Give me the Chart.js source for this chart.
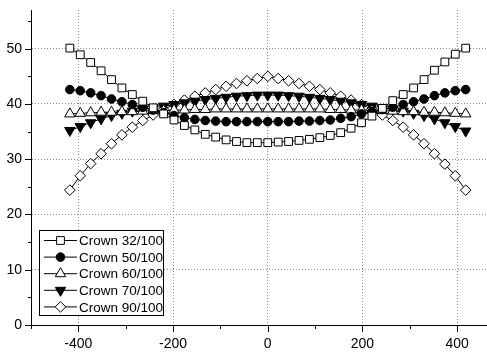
<!DOCTYPE html>
<html>
<head>
<meta charset="utf-8">
<script src="https://cdn.jsdelivr.net/npm/chart.js@4.4.0/dist/chart.umd.min.js"></script>
<style>
  html, body { margin: 0; padding: 0; background: #fff; }
  #wrap { width: 487px; height: 352px; }
</style>
</head>
<body>
<div id="wrap"><canvas id="crownChart" width="487" height="352"></canvas></div>
<script>
// ── DATA ──
const xPositions = [-418, -396, -374, -352, -330, -308, -286, -264, -242, -220,
                    -198, -176, -154, -132, -110, -88, -66, -44, -22, 0,
                    22, 44, 66, 88, 110, 132, 154, 176, 198, 220,
                    242, 264, 286, 308, 330, 352, 374, 396, 418];

const crown32 = [50.1, 48.9, 47.5, 46.0, 44.4, 42.9, 41.7, 40.5, 39.3, 38.2,
                 37.1, 36.1, 35.3, 34.5, 34.0, 33.5, 33.2, 33.0, 33.0, 33.0,
                 33.1, 33.2, 33.4, 33.6, 33.9, 34.3, 34.8, 35.6, 36.6, 37.8,
                 39.2, 40.6, 41.7, 42.9, 44.4, 46.1, 47.6, 49.0, 50.1];

const crown50 = [42.6, 42.4, 42.0, 41.5, 40.9, 40.4, 39.9, 39.4, 38.9, 38.4,
                 37.9, 37.5, 37.2, 37.0, 36.9, 36.8, 36.8, 36.8, 36.8, 36.8,
                 36.8, 36.8, 36.9, 36.9, 37.0, 37.1, 37.4, 37.7, 38.2, 38.6,
                 39.0, 39.4, 39.9, 40.4, 40.9, 41.5, 42.0, 42.4, 42.6];

const crown60 = [38.2, 38.3, 38.4, 38.5, 38.5, 38.6, 38.6, 38.7, 38.8, 38.8,
                 38.9, 38.9, 39.0, 39.0, 39.1, 39.1, 39.1, 39.1, 39.1, 39.1,
                 39.1, 39.1, 39.1, 39.1, 39.1, 39.0, 39.0, 38.9, 38.9, 38.8,
                 38.8, 38.7, 38.6, 38.6, 38.5, 38.5, 38.4, 38.3, 38.2];

const crown70 = [35.2, 35.9, 36.6, 37.3, 37.9, 38.3, 38.7, 39.0, 39.3, 39.6,
                 39.9, 40.2, 40.5, 40.8, 41.0, 41.2, 41.4, 41.5, 41.6, 41.6,
                 41.6, 41.5, 41.4, 41.2, 41.0, 40.8, 40.5, 40.2, 39.9, 39.6,
                 39.3, 39.0, 38.7, 38.3, 37.9, 37.3, 36.6, 35.9, 35.1];

const crown90 = [24.4, 27.0, 29.2, 31.0, 32.8, 34.4, 35.8, 37.0, 38.0, 39.0,
                 39.9, 40.7, 41.4, 42.0, 42.6, 43.2, 43.7, 44.2, 44.6, 45.0,
                 44.6, 44.2, 43.7, 43.2, 42.6, 42.0, 41.4, 40.7, 39.9, 39.0,
                 38.0, 37.0, 35.8, 34.4, 32.8, 31.0, 29.1, 27.0, 24.4];

const seriesNames = ['Crown 32/100', 'Crown 50/100', 'Crown 60/100', 'Crown 70/100', 'Crown 90/100'];
const seriesValues = [crown32, crown50, crown60, crown70, crown90];

const yTicks = [0, 10, 20, 30, 40, 50];
const xTicks = [-400, -200, 0, 200, 400];

// marker look per series
const markers = [
  { pointStyle: 'rect',     radius: 5.5, rotation: 0,   fill: '#ffffff' },
  { pointStyle: 'circle',   radius: 4.3, rotation: 0,   fill: '#000000' },
  { pointStyle: 'triangle', radius: 6,   rotation: 0,   fill: '#ffffff' },
  { pointStyle: 'triangle', radius: 6,   rotation: 180, fill: '#000000' },
  { pointStyle: 'rectRot',  radius: 5.3, rotation: 0,   fill: '#ffffff' }
];

const FONT = '"Liberation Sans", Arial, sans-serif';

const datasets = seriesNames.map((name, i) => ({
  label: name,
  data: xPositions.map((x, j) => ({ x, y: seriesValues[i][j] })),
  borderColor: '#000',
  borderWidth: 1,
  pointStyle: markers[i].pointStyle,
  pointRadius: markers[i].radius,
  pointRotation: markers[i].rotation,
  pointBackgroundColor: markers[i].fill,
  pointBorderColor: '#000',
  pointBorderWidth: 1,
  tension: 0,
  fill: false
}));

// no extra label padding, so the plot box sits where the original does
function noPad(s) {
  s.paddingLeft = 0; s.paddingRight = 0;
  s.paddingTop = 0; s.paddingBottom = 0;
}

// ── MINOR/MAJOR TICKS + BOXED LEGEND ──
const originStyle = {
  id: 'originStyle',
  afterDraw(chart) {
    const { ctx, chartArea, scales } = chart;
    const xs = scales.x, ys = scales.y;
    ctx.save();
    ctx.strokeStyle = '#000';
    ctx.lineWidth = 1;
    ctx.beginPath();
    for (let v = 0; v <= ys.max; v += 5) {
      const y = Math.round(ys.getPixelForValue(v)) + 0.5;
      const len = v % 10 === 0 ? 6 : 3;
      ctx.moveTo(chartArea.left - len, y);
      ctx.lineTo(chartArea.left, y);
    }
    for (let v = -500; v <= xs.max; v += 100) {
      const x = Math.round(xs.getPixelForValue(v)) + 0.5;
      const len = v % 200 === 0 ? 7 : 4;
      ctx.moveTo(x, chartArea.bottom);
      ctx.lineTo(x, chartArea.bottom + len);
    }
    ctx.stroke();

    // legend
    const bx = 39.5, by = 230.5, bw = 124, bh = 85;
    ctx.fillStyle = '#fff';
    ctx.fillRect(bx, by, bw, bh);
    ctx.strokeRect(bx, by, bw, bh);
    ctx.font = '13.5px ' + FONT;
    ctx.textBaseline = 'middle';
    ctx.textAlign = 'left';
    seriesNames.forEach((name, i) => {
      const y = 240.5 + i * 16.6;
      ctx.strokeStyle = '#000';
      ctx.beginPath();
      ctx.moveTo(44, y);
      ctx.lineTo(77, y);
      ctx.stroke();
      ctx.fillStyle = markers[i].fill;
      Chart.helpers.drawPoint(ctx, {
        pointStyle: markers[i].pointStyle,
        radius: markers[i].radius,
        rotation: markers[i].rotation,
        borderWidth: 1
      }, 60.5, y);
      ctx.fillStyle = '#000';
      ctx.fillText(name, 79, y + 1);
    });
    ctx.restore();
  }
};

new Chart(document.getElementById('crownChart').getContext('2d'), {
  type: 'line',
  data: { datasets },
  options: {
    responsive: false,
    animation: false,
    events: [],
    layout: { autoPadding: false, padding: { top: 10, right: 0, left: 0, bottom: 0 } },
    plugins: { legend: { display: false }, tooltip: { enabled: false } },
    scales: {
      x: {
        type: 'linear',
        min: -500,
        max: 463,
        afterFit: s => { s.height = 27; noPad(s); },
        afterBuildTicks: s => { s.ticks = xTicks.map(v => ({ value: v })); },
        ticks: { color: '#000', font: { family: FONT, size: 14 }, padding: 11, maxRotation: 0 },
        grid: { drawTicks: false, color: '#8c8c8c', lineWidth: 1 },
        border: { color: '#000', width: 1, dash: [1, 2] }
      },
      y: {
        min: 0,
        max: 57,
        afterFit: s => { s.width = 31; noPad(s); },
        afterBuildTicks: s => { s.ticks = yTicks.map(v => ({ value: v })); },
        ticks: { color: '#000', font: { family: FONT, size: 14 }, padding: 9 },
        grid: {
          drawTicks: false,
          lineWidth: 1,
          color: c => (c.tick && c.tick.value === 0) ? 'rgba(0,0,0,0)' : '#8c8c8c'
        },
        border: { color: '#000', width: 1, dash: [1, 2] }
      }
    }
  },
  plugins: [originStyle]
});
</script>
</body>
</html>
